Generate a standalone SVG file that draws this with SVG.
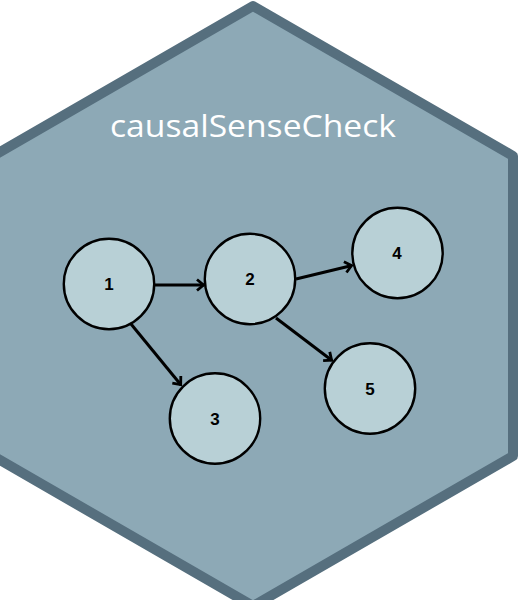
<svg xmlns="http://www.w3.org/2000/svg" width="518" height="600" viewBox="0 0 518 600">
<style>
.hex{fill:#8da9b6;stroke:#566f7e;stroke-width:10;stroke-linejoin:round}
.title{font-family:"Open Sans","Noto Sans",sans-serif;font-size:31px;fill:#fff}
.n{fill:#b8d0d6;stroke:#000;stroke-width:2.4}
.l{font-family:"Liberation Sans",sans-serif;font-size:17px;font-weight:bold;fill:#000;text-anchor:middle}
.e{fill:none;stroke:#000;stroke-width:3;marker-end:url(#a)}
</style>
<defs><marker id="a" markerUnits="userSpaceOnUse" markerWidth="16" markerHeight="16" refX="10.5" refY="8" orient="auto"><path d="M3.5 2.500L10 8L3.500 13.500" fill="none" stroke="#000" stroke-width="2.8"/></marker></defs>
<polygon class="hex" points="253,6 513,156 513,456 253,606 -7,456 -7,156"/>
<text class="title" x="110" y="137" textLength="286" lengthAdjust="spacingAndGlyphs">causalSenseCheck</text>
<g id="connectors">
<line class="e" x1="155" y1="285" x2="204" y2="285"/>
<line class="e" x1="131" y1="324" x2="181" y2="385"/>
<line class="e" x1="296" y1="279" x2="352" y2="265.500"/>
<line class="e" x1="276" y1="318" x2="332" y2="360.500"/>
</g>
<g id="node1"><circle class="n" cx="109" cy="284" r="45.200"/><text class="l" x="109" y="290">1</text></g>
<g id="node2"><circle class="n" cx="250" cy="279" r="45.200"/><text class="l" x="250" y="285">2</text></g>
<g id="node3"><circle class="n" cx="215" cy="418.500" r="45.200"/><text class="l" x="215" y="424.500">3</text></g>
<g id="node4"><circle class="n" cx="397.500" cy="253" r="45.200"/><text class="l" x="397" y="259">4</text></g>
<g id="node5"><circle class="n" cx="370" cy="388.500" r="45.200"/><text class="l" x="370" y="394.500">5</text></g>
</svg>
